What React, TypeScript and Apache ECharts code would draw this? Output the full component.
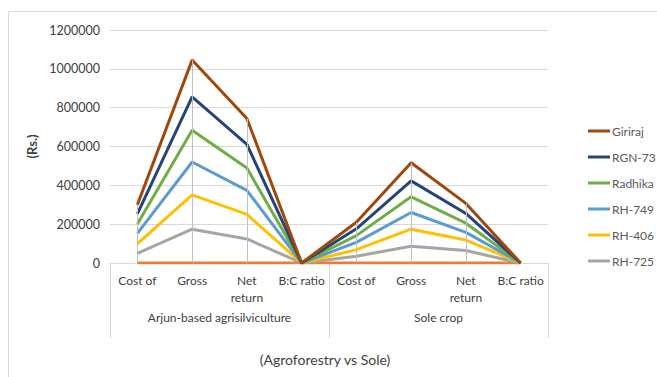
import React, { useEffect, useRef } from "react";
import * as echarts from "echarts";

const categories = ["Cost of", "Gross", "Net\nreturn", "B:C ratio", "Cost of", "Gross", "Net\nreturn", "B:C ratio"];
const groups = ["Arjun-based agrisilviculture", "Sole crop"];
const yTicks = [0, 200000, 400000, 600000, 800000, 1000000, 1200000];

const baseline = [0, 0, 0, 0, 0, 0, 0, 0];
const rh725 = [50000, 174000, 124000, 1.8, 35000, 86000, 64000, 1.7];
const rh406 = [48000, 177000, 126000, 1.9, 34000, 88000, 54000, 1.8];
const rh749 = [55000, 169000, 124000, 1.9, 37000, 86000, 40000, 1.7];
const radhika = [48000, 164000, 115000, 2.0, 35000, 81000, 47000, 1.8];
const rgn73 = [52000, 172000, 122000, 2.0, 35000, 82000, 50000, 1.8];
const giriraj = [47000, 189000, 133000, 2.1, 34000, 93000, 52000, 1.9];

const seriesDefs = [
  { name: "RH-725", data: rh725, color: "#A5A5A5" },
  { name: "RH-406", data: rh406, color: "#FFC000" },
  { name: "RH-749", data: rh749, color: "#5B9BD5" },
  { name: "Radhika", data: radhika, color: "#70AD47" },
  { name: "RGN-73", data: rgn73, color: "#264478" },
  { name: "Giriraj", data: giriraj, color: "#9E480E" },
];
const legendOrder = ["Giriraj", "RGN-73", "Radhika", "RH-749", "RH-406", "RH-725"];

const FONT = "Lato, 'Noto Sans', sans-serif";

export default function App() {
  const ref = useRef<HTMLDivElement>(null);
  useEffect(() => {
    if (!ref.current) return;
    const chart = echarts.init(ref.current, null, { renderer: "svg" });
    const totals = categories.map((_, i) =>
      seriesDefs.reduce((s, d) => s + d.data[i], baseline[i])
    );
    const dropLines = totals.map((t, i) => [
      { coord: [i, t] },
      { coord: [i, 0] },
    ]);
    const option: any = {
      animation: false,
      backgroundColor: "#ffffff",
      textStyle: { fontFamily: FONT },
      grid: { left: 110, right: 109, top: 30, bottom: 114 },
      title: {
        text: "(Agroforestry vs Sole)",
        left: 320,
        top: 347,
        textAlign: "center",
        textStyle: { fontFamily: FONT, fontSize: 14, fontWeight: "normal", color: "#404040" },
      },
      legend: {
        data: legendOrder,
        orient: "vertical",
        left: 583,
        top: 120,
        itemGap: 14,
        itemWidth: 22,
        itemHeight: 3,
        icon: "rect",
        textStyle: { fontFamily: FONT, fontSize: 12, color: "#595959", padding: [0, 0, 0, -3] },
      },
      xAxis: [
        {
          type: "category",
          data: categories,
          position: "bottom",
          axisLine: { show: true, lineStyle: { color: "#d9d9d9" } },
          axisTick: { show: false },
          axisLabel: {
            interval: 0,
            margin: 9,
            fontFamily: FONT,
            fontSize: 12,
            lineHeight: 17,
            color: "#404040",
          },
          splitLine: { show: false },
        },
        {
          type: "category",
          data: groups,
          position: "bottom",
          offset: 0,
          axisLine: { show: false },
          axisTick: { show: true, length: 75, interval: 0, lineStyle: { color: "#d9d9d9" } },
          axisLabel: {
            interval: 0,
            margin: 48,
            fontFamily: FONT,
            fontSize: 12,
            color: "#404040",
          },
          splitLine: { show: false },
        },
      ],
      yAxis: {
        type: "value",
        min: 0,
        max: 1200000,
        interval: 200000,
        name: "(Rs.)",
        nameLocation: "middle",
        nameGap: 52,
        nameRotate: 90,
        nameTextStyle: { fontFamily: FONT, fontSize: 13, fontWeight: "bold", color: "#404040" },
        axisLine: { show: false },
        axisTick: { show: false },
        axisLabel: {
          margin: 10,
          fontFamily: FONT,
          fontSize: 12.5,
          color: "#404040",
          customValues: yTicks,
          formatter: (v: number) => String(v),
        },
        splitLine: { show: true, lineStyle: { color: "#d9d9d9", width: 1 } },
      },
      graphic: [
        {
          type: "rect",
          shape: { x: 8.5, y: 11.5, width: 700, height: 400 },
          style: { fill: "none", stroke: "#d9d9d9", lineWidth: 1 },
          silent: true,
        },
      ],
      series: [
        {
          name: "drop",
          type: "line",
          data: totals,
          symbol: "none",
          lineStyle: { opacity: 0 },
          z: 1,
          silent: true,
          markLine: {
            silent: true,
            symbol: ["none", "none"],
            label: { show: false },
            lineStyle: { color: "#bfbfbf", width: 1, type: "solid" },
            data: dropLines,
          },
        },
        {
          name: "base",
          type: "line",
          stack: "total",
          data: baseline,
          symbol: "none",
          z: 3,
          lineStyle: { color: "#ED7D31", width: 3 },
          itemStyle: { color: "#ED7D31" },
        },
        ...seriesDefs.map((d) => ({
          name: d.name,
          type: "line",
          stack: "total",
          data: d.data,
          symbol: "none",
          z: 3,
          lineStyle: { color: d.color, width: 3 },
          itemStyle: { color: d.color },
        })),
      ],
    };
    chart.setOption(option);
    return () => chart.dispose();
  }, []);
  return (
    <div
      ref={ref}
      style={{ position: "absolute", left: 0, top: 0, width: 657, height: 377 }}
    />
  );
}
